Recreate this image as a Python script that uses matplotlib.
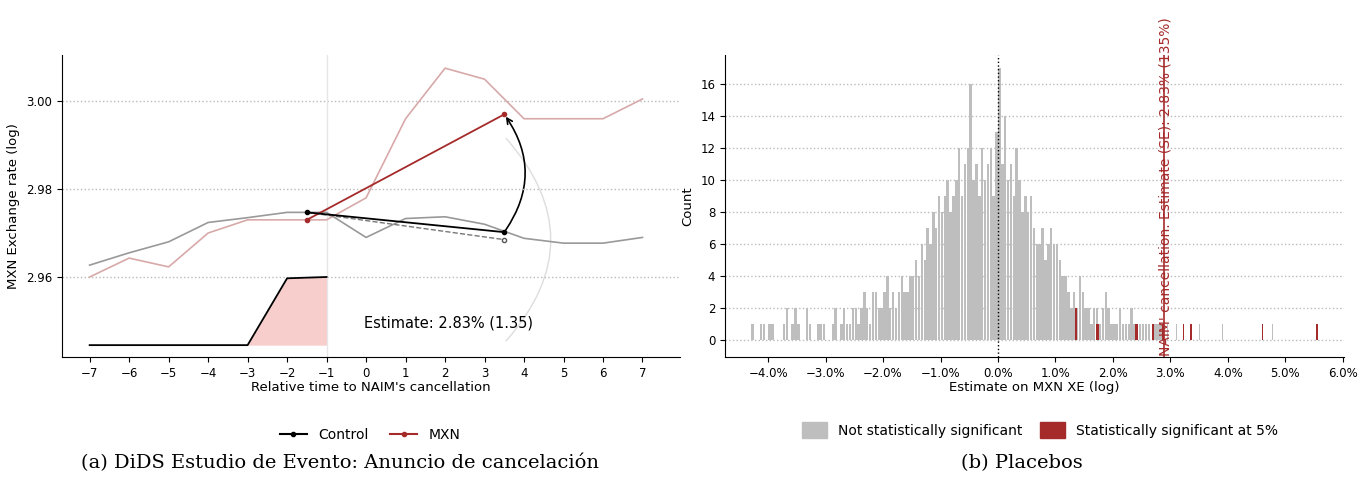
import numpy as np
import matplotlib.pyplot as plt
from matplotlib.patches import FancyArrowPatch, Patch
from matplotlib.lines import Line2D

# left panel: event study
t = np.arange(-7, 8)
control = [2.9627, 2.9655, 2.968, 2.9724, 2.9735, 2.9747, 2.9747, 2.969,
           2.9733, 2.9737, 2.972, 2.9688, 2.9677, 2.9677, 2.969]
mxn = [2.960, 2.9643, 2.9623, 2.970, 2.973, 2.973, 2.973, 2.978,
       2.996, 3.0075, 3.005, 2.996, 2.996, 2.996, 3.0005]
pre_x, post_x = -1.5, 3.5
control_pre, control_post = 2.9747, 2.9702
mxn_pre, mxn_post = 2.973, 2.997
cf_post = 2.9685
weight_t = [-7, -3, -2, -1]
weight_y = [2.9445, 2.9445, 2.9597, 2.960]

# right panel: placebo histogram (bin width 0.05%)
bin_start, bin_w = -4.3, 0.05
counts = [1,0,0,1,1,0,1,1,0,0,0,1,2,0,1,2,1,0,0,2,1,0,0,1,1,1,0,0,1,2,0,1,2,1,1,2,
          2,1,2,3,2,1,3,3,2,2,3,4,2,3,2,3,4,3,3,4,
          4,5,4,6,5,7,6,8,7,9,
          8,9,10,8,9,10,12,9,11,12,
          16,10,11,9,12,10,11,12,9,13,17,11,14,10,11,9,12,10,8,9,
          8,9,7,6,6,7,5,6,7,6,
          6,5,4,4,
          3,2,3,2,4,3,2,2,1,2,2,1,2,3,2,1,
          1,1,2,1,1,1,2,1,0,1,1,1,1,0,1,1,1,0]
tail_x = [2.95, 3.1, 3.5, 3.9, 4.78]
sig_x = [1.36, 1.72, 1.75, 2.40, 2.42, 2.70, 2.87, 3.23, 3.36, 4.60, 5.55]
sig_n = [2, 1, 1, 1, 1, 1, 1, 1, 1, 1, 1]
estimate = 2.89

red = '#a52a2a'
pink = '#d8a9a9'
fig = plt.figure(figsize=(13.69, 4.83), dpi=100)

# ---- left
ax = fig.add_axes([62/1369, 1-357/483, 618/1369, 302/483])
ax.axhline(3.00, color='#bbbbbb', ls=':', lw=1)
ax.axhline(2.98, color='#bbbbbb', ls=':', lw=1)
ax.axhline(2.96, color='#bbbbbb', ls=':', lw=1)
ax.axvline(-1, color='#e6e6e6', lw=1)
ax.fill_between(weight_t, 2.9445, weight_y, where=[False, True, True, True],
                color='#f8cecc', lw=0)
ax.plot(weight_t, weight_y, color='black', lw=1.3)
ax.plot(t, control, color='#999999', lw=1.2)
ax.plot(t, mxn, color=pink, lw=1.2)
ax.plot([pre_x, post_x], [control_pre, cf_post], color='#777777', ls='--', lw=1)
ax.plot([pre_x, post_x], [mxn_pre, mxn_post], color=red, lw=1.3, marker='o', ms=3)
ax.plot([pre_x, post_x], [control_pre, control_post], color='black', lw=1.3, marker='o', ms=3)
ax.plot([post_x], [cf_post], marker='o', ms=3, mfc='white', mec='#555555')
ax.add_patch(FancyArrowPatch((post_x, 2.992), (post_x, 2.945),
                             connectionstyle='arc3,rad=-0.45', arrowstyle='-',
                             color='#dddddd', lw=1))
ax.add_patch(FancyArrowPatch((post_x, control_post), (post_x, mxn_post),
                             connectionstyle='arc3,rad=0.35', arrowstyle='->',
                             mutation_scale=10, color='black', lw=1.2))
ax.text(-0.05, 2.9495, 'Estimate: 2.83% (1.35)', fontsize=10.5, va='center')
ax.set_xlim(-7.7, 7.95)
ax.set_ylim(2.9418, 3.0105)
ax.set_xticks(t)
ax.set_xticklabels([str(v).replace('-', '\u2212') for v in t])
ax.set_yticks([2.96, 2.98, 3.00])
ax.set_yticklabels(['2.96', '2.98', '3.00'])
ax.set_xlabel("Relative time to NAIM's cancellation", fontsize=9.5, labelpad=1)
ax.set_ylabel('MXN Exchange rate (log)', fontsize=9.5)
for s in ['top', 'right']:
    ax.spines[s].set_visible(False)
ax.tick_params(labelsize=8.5)
fig.legend(handles=[Line2D([], [], color='black', marker='o', ms=3, label='Control'),
                    Line2D([], [], color=red, marker='o', ms=3, label='MXN')],
           loc='center', bbox_to_anchor=(370/1369, 1-435/483), ncol=2,
           frameon=False, fontsize=10, handlelength=2, columnspacing=1.5)

# ---- right
bx = fig.add_axes([725/1369, 1-357/483, 619/1369, 302/483])
for v in range(0, 17, 2):
    bx.axhline(v, color='#bbbbbb', ls=':', lw=1, zorder=0)
centers = bin_start + bin_w * (np.arange(len(counts)) + 0.5)
bx.bar(centers, counts, width=bin_w * 0.85, color='#bebebe', lw=0)
bx.bar(tail_x, [1] * len(tail_x), width=0.02, color='#bebebe', lw=0)
bx.bar(sig_x, sig_n, width=0.025, color=red, lw=0)
bx.axvline(0, color='black', ls=':', lw=1)
bx.axvline(estimate, color=red, lw=1.2)
bx.text(estimate + 0.03, -1.0, "NAIM' cancellation. Estimate (SE): 2.83% (135%)",
        rotation=90, color=red, fontsize=10, ha='center', va='bottom', clip_on=False)
bx.set_xlim(-4.75, 6.02)
bx.set_ylim(-1.05, 17.8)
xt = np.arange(-4, 7)
bx.set_xticks(xt)
bx.set_xticklabels([f'{v:.1f}%'.replace('-', '\u2212') for v in xt])
bx.set_yticks(range(0, 17, 2))
bx.set_xlabel('Estimate on MXN XE (log)', fontsize=9.5, labelpad=1)
bx.set_ylabel('Count', fontsize=9.5)
for s in ['top', 'right']:
    bx.spines[s].set_visible(False)
bx.tick_params(labelsize=8.5)
fig.legend(handles=[Patch(color='#bebebe', label='Not statistically significant'),
                    Patch(color=red, label='Statistically significant at 5%')],
           loc='center', bbox_to_anchor=(1040/1369, 1-430/483), ncol=2,
           frameon=False, fontsize=10, handlelength=1.8, handleheight=1.5,
           columnspacing=1.2)

fig.text(340/1369, 1-463/483, '(a) DiDS Estudio de Evento: Anuncio de cancelación',
         family='DejaVu Serif', fontsize=14, ha='center', va='center')
fig.text(1022/1369, 1-463/483, '(b) Placebos',
         family='DejaVu Serif', fontsize=14, ha='center', va='center')

fig.savefig('out.png', dpi=100)
